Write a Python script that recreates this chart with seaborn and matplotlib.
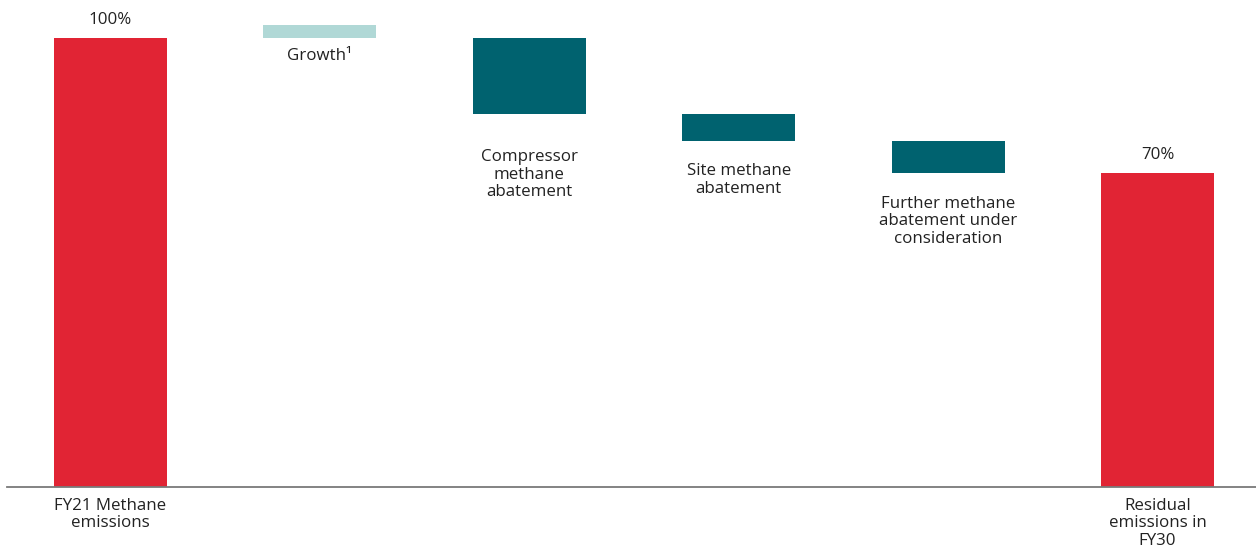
import matplotlib
matplotlib.use("Agg")
import matplotlib.pyplot as plt
import seaborn as sns
import pandas as pd

# Waterfall steps for methane emissions (% of FY21 baseline)
labels = [
    "FY21 Methane\nemissions",
    "Growth\u00b9",
    "Compressor\nmethane\nabatement",
    "Site methane\nabatement",
    "Further methane\nabatement under\nconsideration",
    "Residual\nemissions in\nFY30",
]
bar_bottom = [0, 100, 83, 77, 70, 0]
bar_top = [100, 103, 100, 83, 77, 70]
kinds = ["total", "increase", "decrease", "decrease", "decrease", "total"]
value_labels = ["100%", "", "", "", "", "70%"]

colors = {"total": "#E12434", "increase": "#B0D8D6", "decrease": "#00626F"}

sns.set_theme(style="white")
plt.rcParams["font.family"] = ["Open Sans", "DejaVu Sans"]

df = pd.DataFrame({
    "label": labels,
    "bottom": bar_bottom,
    "height": [t - b for t, b in zip(bar_top, bar_bottom)],
    "kind": kinds,
})

fig = plt.figure(figsize=(12.56, 5.52), dpi=100)
ax = fig.add_axes([7 / 1256, 1 - 487 / 552, 1 - 7 / 1256, 487 / 552])

for kind, color in colors.items():
    sub = df[df["kind"] == kind]
    sns.barplot(data=sub, x="label", y="height", order=labels,
                bottom=sub["bottom"].to_numpy(), color=color,
                width=0.54, errorbar=None, ax=ax, linewidth=0,
                saturation=1)

ax.set_xlim(-0.494, 5.47)
ax.set_ylim(0, 108.5)
ax.set_xticks([])
ax.set_yticks([])
ax.set_xlabel("")
ax.set_ylabel("")
for side in ["top", "left", "right"]:
    ax.spines[side].set_visible(False)
ax.spines["bottom"].set_color("#7a7a7a")
ax.spines["bottom"].set_linewidth(1.3)

text_color = "#222222"
fs = 12.2

# Value labels above the total bars
for i, (txt, top) in enumerate(zip(value_labels, bar_top)):
    if txt:
        ax.annotate(txt, (i, top), xytext=(0, 10), textcoords="offset pixels",
                    ha="center", va="bottom", fontsize=fs, color=text_color)

# Category labels: under the axis for totals, under the bar for steps
step_gap = {1: 10, 2: 35, 3: 22, 4: 23}
for i, txt in enumerate(labels):
    if kinds[i] == "total":
        y, gap = 0, 11
    else:
        y, gap = bar_bottom[i], step_gap[i]
    ax.annotate(txt, (i, y), xytext=(0, -gap), textcoords="offset pixels",
                ha="center", va="top", fontsize=fs, color=text_color,
                linespacing=1.12, annotation_clip=False)

fig.savefig("out.png", dpi=100)
